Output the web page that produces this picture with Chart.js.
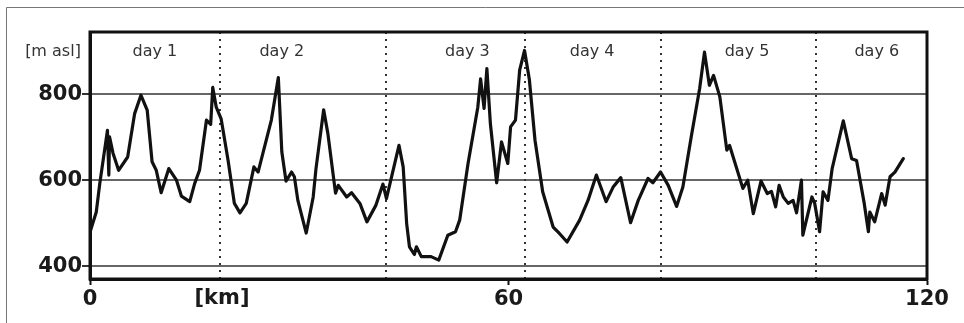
<!DOCTYPE html>
<html>
<head>
<meta charset="utf-8">
<script src="https://cdn.jsdelivr.net/npm/chart.js@4.4.1/dist/chart.umd.min.js"></script>
<style>
  html, body { margin: 0; padding: 0; background: #fff; }
  canvas { display: block; }
</style>
</head>
<body>
<canvas id="perfilChart" width="964" height="323"></canvas>
<script>
// perfil de altura
var distanceKm = [0.1, 0.9, 1.4, 2.5, 2.7, 2.8, 3.3, 4.1, 5.4, 6.4, 7.3, 8.2, 8.9, 9.5, 10.2, 11.3, 12.4, 13.1, 14.3, 15.0,
    15.7, 16.7, 17.3, 17.6, 18.1, 18.8, 19.8, 20.7, 21.5, 22.4, 23.5, 24.1, 26.0, 27.0, 27.5, 28.1, 28.9, 29.3, 29.8, 31.0,
    32.0, 32.4, 33.5, 34.1, 35.2, 35.6, 36.8, 37.5, 38.7, 39.7, 41.0, 42.0, 42.5, 44.3, 44.9, 45.4, 45.8, 46.5, 46.8, 47.5,
    48.9, 50.0, 51.3, 52.4, 53.0, 54.2, 55.6, 56.0, 56.5, 56.9, 57.4, 58.3, 59.0, 59.9, 60.3, 61.0, 61.6, 62.3, 63.0, 63.8,
    64.9, 66.4, 67.3, 68.4, 70.2, 71.4, 72.6, 74.0, 75.0, 76.1, 77.5, 78.6, 80.0, 80.7, 81.8, 82.9, 84.1, 85.0, 86.2, 87.4,
    88.1, 88.8, 89.4, 90.3, 91.3, 91.7, 93.6, 94.3, 95.1, 96.2, 97.1, 97.7, 98.3, 98.8, 99.4, 100.1, 100.8, 101.3, 102.0, 102.2,
    103.5, 103.9, 104.6, 105.1, 105.8, 106.4, 108.0, 109.2, 109.9, 111.0, 111.6, 111.8, 112.5, 113.5, 114.0, 114.7, 115.4, 116.6];
var elevationM = [484, 526, 592, 716, 612, 701, 663, 623, 654, 755, 798, 763, 643, 623, 571, 627, 600, 563, 550, 592,
    623, 740, 730, 816, 770, 743, 646, 546, 524, 546, 631, 619, 740, 839, 666, 598, 619, 608, 553, 477,
    561, 627, 764, 709, 570, 588, 561, 571, 546, 503, 542, 591, 557, 681, 631, 499, 445, 427, 445, 422,
    422, 414, 472, 480, 507, 639, 770, 836, 767, 860, 732, 594, 689, 639, 724, 740, 856, 902, 833, 693,
    573, 491, 476, 456, 507, 553, 612, 550, 584, 606, 501, 553, 604, 594, 619, 588, 539, 584, 701, 813,
    898, 821, 844, 794, 670, 681, 581, 600, 522, 598, 569, 574, 538, 588, 561, 546, 553, 524, 600, 472,
    561, 546, 480, 573, 553, 627, 738, 650, 646, 546, 480, 526, 503, 569, 542, 608, 619, 650];

var dayBreaksKm = [18.6, 42.4, 62.4, 81.9, 104.1];
var dayLabels = ['day 1', 'day 2', 'day 3', 'day 4', 'day 5', 'day 6'];
var dayLabelKm = [9.3, 27.5, 54.1, 72.0, 94.2, 112.8];
var xTicks = [0, 60, 120];
var yTicks = [400, 600, 800];

var puntos = distanceKm.map(function (d, i) { return { x: d, y: elevationM[i] }; });

var decoracion = {
    id: 'decoracion',
    beforeDraw: function (chart) {
        var ctx = chart.ctx;
        ctx.save();
        ctx.fillStyle = '#fff';
        ctx.fillRect(0, 0, chart.width, chart.height);
        // marco exterior
        ctx.strokeStyle = '#777';
        ctx.lineWidth = 1;
        ctx.beginPath();
        ctx.moveTo(6.5, chart.height);
        ctx.lineTo(6.5, 7.5);
        ctx.lineTo(chart.width, 7.5);
        ctx.stroke();
        ctx.restore();
    },
    beforeDatasetsDraw: function (chart) {
        var ctx = chart.ctx, area = chart.chartArea, xs = chart.scales.x;
        ctx.save();
        ctx.strokeStyle = '#333';
        ctx.lineWidth = 2;
        ctx.setLineDash([2, 5]);
        dayBreaksKm.forEach(function (km) {
            var px = Math.round(xs.getPixelForValue(km));
            ctx.beginPath();
            ctx.moveTo(px, area.top);
            ctx.lineTo(px, area.bottom);
            ctx.stroke();
        });
        ctx.restore();
    },
    afterDraw: function (chart) {
        var ctx = chart.ctx, area = chart.chartArea, xs = chart.scales.x;
        ctx.save();
        ctx.strokeStyle = '#111';
        ctx.lineWidth = 3;
        ctx.strokeRect(area.left, area.top, area.right - area.left, area.bottom - area.top);

        ctx.fillStyle = '#333';
        ctx.font = '16px "DejaVu Sans"';
        ctx.textAlign = 'center';
        ctx.textBaseline = 'middle';
        dayLabels.forEach(function (t, i) {
            ctx.fillText(t, xs.getPixelForValue(dayLabelKm[i]), 52);
        });
        ctx.fillText('[m asl]', 53, 52);

        ctx.fillStyle = '#1a1a1a';
        ctx.font = 'bold 21px "DejaVu Sans"';
        ctx.fillText('[km]', 222, 299);
        ctx.restore();
    }
};

var ctx = document.getElementById('perfilChart').getContext('2d');

var myChart = new Chart(ctx, {
    type: 'line',
    data: {
        datasets: [{
            data: puntos,
            borderColor: '#111',
            borderWidth: 3.2,
            borderJoinStyle: 'round',
            borderCapStyle: 'round',
            pointRadius: 0,
            tension: 0,
            fill: false
        }]
    },
    options: {
        responsive: false,
        animation: false,
        events: [],
        layout: {
            padding: { left: 0, right: 37, top: 32, bottom: 0 }
        },
        scales: {
            x: {
                type: 'linear',
                min: 0,
                max: 120,
                afterBuildTicks: function (scale) {
                    scale.ticks = xTicks.map(function (v) { return { value: v }; });
                },
                afterFit: function (scale) { scale.height = 44; },
                grid: {
                    drawOnChartArea: false,
                    drawTicks: true,
                    tickLength: 6,
                    tickColor: '#111',
                    tickWidth: 2
                },
                border: { display: true, color: '#111', width: 3 },
                ticks: {
                    color: '#1a1a1a',
                    padding: 2,
                    maxRotation: 0,
                    autoSkip: false,
                    font: { family: 'DejaVu Sans', size: 21, weight: 'bold' }
                }
            },
            y: {
                min: 370,
                max: 945,
                afterBuildTicks: function (scale) {
                    scale.ticks = yTicks.map(function (v) { return { value: v }; });
                },
                afterFit: function (scale) { scale.width = 90; },
                grid: {
                    color: '#666',
                    lineWidth: 2,
                    drawTicks: true,
                    tickLength: 8,
                    tickColor: '#333'
                },
                border: { display: true, color: '#111', width: 3 },
                ticks: {
                    color: '#1a1a1a',
                    padding: 0,
                    font: { family: 'DejaVu Sans', size: 21, weight: 'bold' }
                }
            }
        },
        plugins: {
            legend: { display: false },
            tooltip: { enabled: false }
        }
    },
    plugins: [decoracion]
});
</script>
</body>
</html>
